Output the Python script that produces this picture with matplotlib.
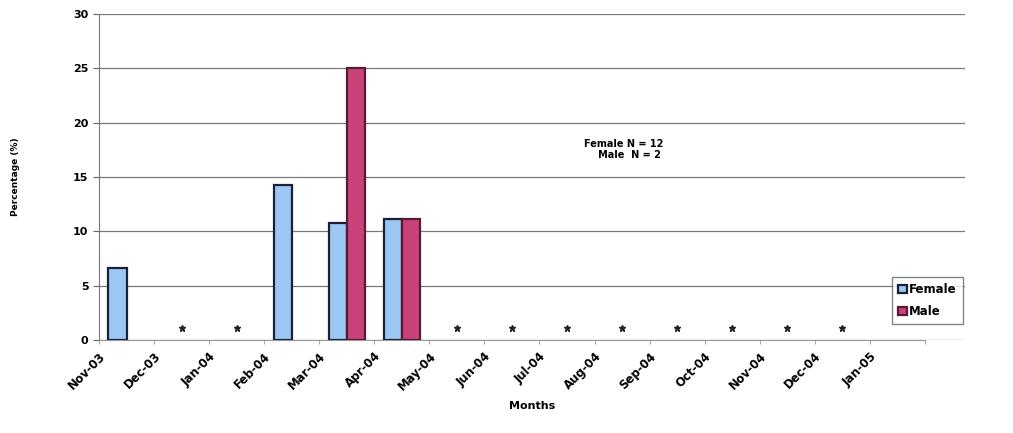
import numpy as np
from matplotlib import pyplot as plt

# months on the x axis (label sits on the left tick of each interval)
months = ["Nov-03", "Dec-03", "Jan-04", "Feb-04", "Mar-04", "Apr-04", "May-04",
          "Jun-04", "Jul-04", "Aug-04", "Sep-04", "Oct-04", "Nov-04", "Dec-04", "Jan-05"]
female = [6.6, 0, 0, 14.3, 10.8, 11.1, 0, 0, 0, 0, 0, 0, 0, 0, 0]
male = [0, 0, 0, 0, 25.0, 11.1, 0, 0, 0, 0, 0, 0, 0, 0, 0]
# months marked with a small star (no cases)
starred = ["Dec-03", "Jan-04", "May-04", "Jun-04", "Jul-04", "Aug-04",
           "Sep-04", "Oct-04", "Nov-04", "Dec-04"]
star_level = 1.1

plt.rcParams['font.family'] = ['DejaVu Sans']
plt.rcParams['font.weight'] = 'bold'

fig = plt.figure(figsize=(10.13, 4.33), dpi=100)
ax = fig.add_axes([0.0977, 0.2148, 0.8550, 0.7529])

x = np.arange(len(months))
w = 0.33
f = np.array(female)
m = np.array(male)
# skip empty months so no flat outline is drawn on the axis
fi = f > 0
mi = m > 0
ax.bar(x[fi] + 0.5 - w / 2, f[fi], w, color="#9cc6f4", edgecolor="#1c2035",
       linewidth=1.6, label="Female", zorder=3)
ax.bar(x[mi] + 0.5 + w / 2, m[mi], w, color="#c8437a", edgecolor="#5a1a35",
       linewidth=1.6, label="Male", zorder=3)

sx = [months.index(mo) + 0.5 for mo in starred]
ax.plot(sx, [star_level] * len(sx), linestyle="none", marker="*",
        markersize=5, color="#222222", zorder=4)

ax.set_xlim(0, 15.73)
ax.set_ylim(0, 30)
ax.set_yticks(range(0, 31, 5))
ax.set_xticks(range(0, 16))
ax.set_xticklabels(months + [""], rotation=45, ha="right",
                   rotation_mode="anchor", fontsize=8.5, fontweight="bold")
ax.tick_params(axis="y", labelsize=8, length=4, color="#666666")
ax.tick_params(axis="x", length=3, color="#aaaaaa", pad=4)
ax.grid(axis="y", color="#7a7a7a", linewidth=0.9, zorder=0)
for s in ["top", "right"]:
    ax.spines[s].set_visible(False)
ax.spines["left"].set_color("#777777")
ax.spines["bottom"].set_color("#999999")
ax.spines["bottom"].set_bounds(0, 15)

ax.set_xlabel("Months", fontsize=8, fontweight="bold", labelpad=6)
ax.set_ylabel("Percentage (%)", fontsize=6.5, fontweight="bold", labelpad=38)

fig.text(0.616, 0.655, "Female N = 12\n   Male  N = 2", fontsize=7,
         fontweight="bold", ha="center", va="center")

fig.legend(loc="upper left", bbox_to_anchor=(0.881, 0.36), fontsize=8.5,
           frameon=True, edgecolor="#666666", fancybox=False,
           handlelength=0.7, handleheight=0.7, handletextpad=0.2,
           labelspacing=0.8, borderpad=0.5, borderaxespad=0)

fig.savefig("out.png", dpi=100)
